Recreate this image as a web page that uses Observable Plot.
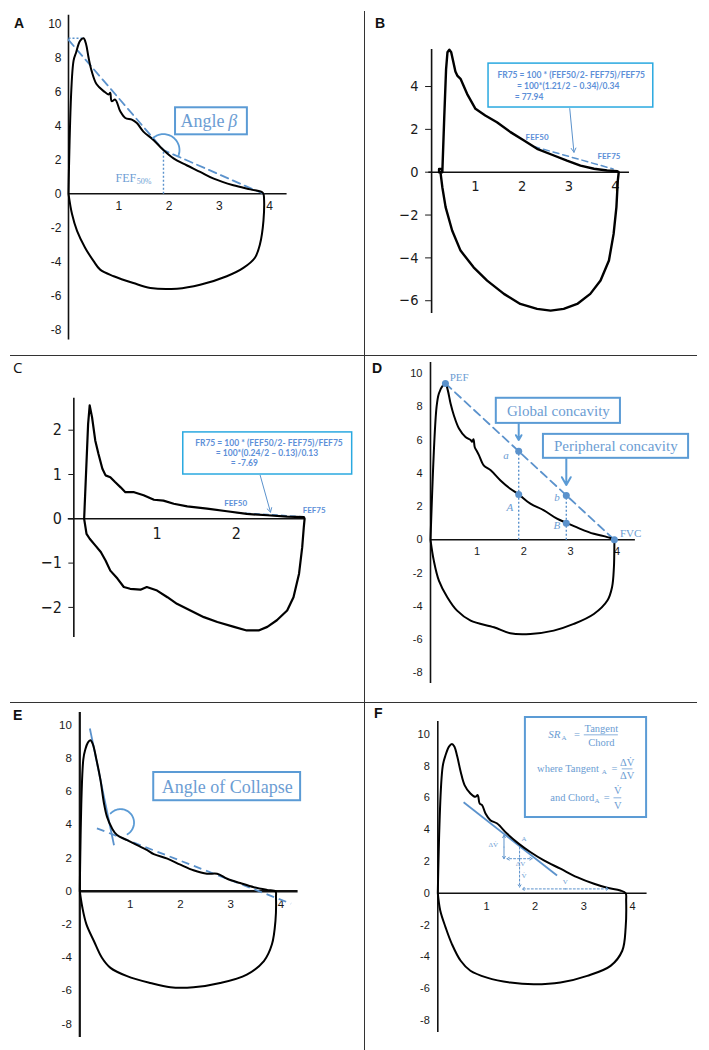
<!DOCTYPE html>
<html><head><meta charset="utf-8">
<script src="https://cdn.jsdelivr.net/npm/d3@7"></script>
<script src="https://cdn.jsdelivr.net/npm/@observablehq/plot@0.6"></script>
<style>
html,body{margin:0;padding:0;background:#fff;}
#fig{position:relative;width:709px;height:1050px;overflow:hidden;background:#fff;}
</style></head><body><div id="fig"></div>
<script>
// ---------------- data ----------------
const yTicks10 = [10,8,6,4,2,0,-2,-4,-6,-8];
const xTicks4 = [1,2,3,4];
const yTicksB = [4,2,0,-2,-4,-6];
const yTicksC = [2,1,0,-1,-2];
const xTicksC = [1,2];
const panelLetters = ["A","B","C","D","E","F"];

const loopA = [[0,0],[0.10,7.82],[0.15,8.3],[0.23,9.0],[0.30,9.15],[0.35,8.8],[0.40,8.0],[0.46,7.23],[0.56,6.44],[0.70,6.04],[0.80,5.84],[0.83,5.94],[0.86,5.45],[0.93,5.54],[1.03,4.85],[1.13,4.46],[1.26,4.36],[1.36,4.16],[1.49,3.66],[1.69,3.17],[1.89,2.57],[2.09,2.08],[2.35,1.68],[2.62,1.29],[2.89,0.89],[3.28,0.50],[3.62,0.26],[3.85,0.1],[3.88,0],
 [3.89,-0.2],[3.88,-1.58],[3.81,-2.97],[3.71,-3.76],[3.48,-4.36],[3.15,-4.85],[2.62,-5.35],[2.16,-5.58],[1.63,-5.54],[1.29,-5.25],[0.90,-4.85],[0.63,-4.46],[0.50,-3.96],[0.33,-3.17],[0.17,-2.18],[0.07,-1.19],[0,0]];

const loopB = [[0.22,0],[0.22,0.15],[0.28,0.15],[0.29,0],[0.33,2.5],[0.37,4.8],[0.40,5.6],[0.44,5.72],[0.48,5.6],[0.52,5.2],[0.57,4.7],[0.61,4.51],[0.68,4.36],[0.82,3.66],[1.0,2.96],[1.21,2.65],[1.46,2.33],[1.75,1.87],[2.04,1.48],[2.32,1.09],[2.68,0.78],[2.96,0.54],[3.25,0.31],[3.54,0.16],[3.82,0.08],[4.04,0.05],[4.07,0],
 [4.05,-0.39],[4.02,-1.63],[3.96,-2.88],[3.86,-4.12],[3.68,-5.06],[3.46,-5.68],[3.18,-6.15],[2.89,-6.38],[2.61,-6.46],[2.32,-6.38],[1.96,-6.15],[1.61,-5.68],[1.25,-5.06],[0.96,-4.44],[0.68,-3.66],[0.5,-2.72],[0.36,-1.63],[0.29,-0.7],[0.25,0]];

const loopC = [[0.08,0],[0.13,2.14],[0.15,2.56],[0.18,2.29],[0.22,1.77],[0.26,1.47],[0.31,1.13],[0.35,0.98],[0.41,0.94],[0.47,0.83],[0.54,0.71],[0.6,0.6],[0.71,0.6],[0.83,0.53],[0.96,0.43],[1.08,0.41],[1.21,0.34],[1.38,0.28],[1.63,0.23],[1.88,0.17],[2.13,0.11],[2.39,0.08],[2.64,0.05],[2.85,0.04],[2.86,0],
 [2.85,-0.19],[2.83,-0.64],[2.79,-1.24],[2.72,-1.77],[2.64,-2.07],[2.51,-2.29],[2.39,-2.44],[2.28,-2.52],[2.13,-2.52],[1.97,-2.44],[1.76,-2.33],[1.59,-2.22],[1.42,-2.07],[1.25,-1.92],[1.13,-1.77],[1.0,-1.62],[0.87,-1.54],[0.79,-1.6],[0.66,-1.58],[0.58,-1.54],[0.5,-1.35],[0.41,-1.17],[0.35,-0.94],[0.29,-0.75],[0.22,-0.6],[0.15,-0.45],[0.11,-0.34],[0.08,0]];

const loopD = [[0,0],[0.13,7.99],[0.18,8.8],[0.27,9.3],[0.32,9.4],[0.37,9.0],[0.43,8.19],[0.5,7.49],[0.61,6.69],[0.75,6.18],[0.86,6.0],[0.89,5.9],[0.92,6.05],[0.95,5.55],[1.0,5.3],[1.04,5.08],[1.14,4.48],[1.29,4.18],[1.5,3.57],[1.71,3.07],[1.89,2.73],[2.14,2.17],[2.43,1.77],[2.71,1.27],[2.93,1.0],[3.21,0.66],[3.5,0.36],[3.79,0.16],[3.94,0],
 [3.94,-0.24],[3.93,-1.65],[3.89,-2.85],[3.79,-3.65],[3.5,-4.46],[3.07,-5.06],[2.64,-5.46],[2.14,-5.66],[1.71,-5.62],[1.36,-5.26],[0.86,-4.86],[0.57,-4.26],[0.36,-3.45],[0.18,-2.45],[0.07,-1.24],[0,0]];

const loopE = [[0,0],[0.07,7.94],[0.11,8.54],[0.16,8.95],[0.21,9.09],[0.26,8.85],[0.33,7.94],[0.41,6.72],[0.48,5.3],[0.54,4.49],[0.64,3.79],[0.74,3.38],[0.94,3.08],[1.14,2.77],[1.34,2.47],[1.47,2.23],[1.74,1.96],[2.0,1.6],[2.26,1.26],[2.53,1.05],[2.73,1.05],[2.93,0.75],[3.19,0.49],[3.46,0.24],[3.72,0.08],[3.89,0],
 [3.9,-0.36],[3.89,-1.78],[3.82,-3.2],[3.66,-4.21],[3.32,-5.02],[2.79,-5.53],[2.26,-5.79],[1.8,-5.79],[1.4,-5.53],[0.94,-5.12],[0.61,-4.62],[0.44,-4.01],[0.28,-3.0],[0.13,-1.98],[0.05,-0.97],[0,0]];

const loopF = [[0,0],[0.1,7.96],[0.16,8.69],[0.23,9.22],[0.29,9.39],[0.34,9.22],[0.4,8.59],[0.47,7.64],[0.55,6.8],[0.67,6.27],[0.77,6.06],[0.82,6.17],[0.86,5.64],[0.91,5.54],[0.98,5.01],[1.08,4.59],[1.22,4.38],[1.42,3.75],[1.66,3.12],[1.9,2.59],[2.18,2.06],[2.52,1.54],[2.86,1.01],[3.21,0.59],[3.48,0.34],[3.75,0.17],[3.86,0],
 [3.87,-0.46],[3.86,-2.15],[3.79,-3.62],[3.55,-4.57],[3.07,-5.2],[2.52,-5.62],[1.97,-5.73],[1.49,-5.62],[1.01,-5.31],[0.67,-4.88],[0.47,-4.25],[0.29,-3.2],[0.16,-2.15],[0.05,-1.09],[0,0]];

// annotations (data units)
const aChord = [[0,9.05],[1.89,2.57],[3.88,0]];
const aGuides = [{x1:0,y1:9.15,x2:0.3,y2:9.15},{x1:1.89,y1:0,x2:1.89,y2:2.57}];
const aBox = [{x1:2.13,x2:3.56,y1:3.47,y2:5.06}];
const aWord = [{x:2.23,y:4.25,t:"Angle"}];
const aBeta = [{x:3.18,y:4.25,t:"β"}];
const aFef = [{x:0.935,y:0.9,t:"FEF"}];
const aFefSub = [{x:1.36,y:0.9,t:"50%"}];

const bBox = [{x1:1.28,x2:4.81,y1:3.02,y2:5.07}];
const bFormula = [{x:1.47,y:4.51,t:"FR75 = 100 * (FEF50/2- FEF75)/FEF75"},{x:1.89,y:4.0,t:"= 100*(1.21/2 – 0.34)/0.34"},{x:1.84,y:3.49,t:"= 77.94"}];
const bArrow = [{x1:3.02,y1:2.97,x2:3.11,y2:0.93}];
const bDash = [[2.25,1.2],[3.95,0.15]];
const bTags = [{x:2.32,y:1.6,t:"FEF50"},{x:3.86,y:0.73,t:"FEF75"}];

const cBox = [{x1:1.33,x2:3.46,y1:1.0,y2:1.95}];
const cFormula = [{x:1.48,y:1.70,t:"FR75 = 100 * (FEF50/2- FEF75)/FEF75"},{x:1.74,y:1.47,t:"= 100*(0.24/2 – 0.13)/0.13"},{x:1.93,y:1.25,t:"= -7.69"}];
const cArrow = [{x1:2.30,y1:0.98,x2:2.43,y2:0.15}];
const cDash = [[2.0,0.14],[2.85,0.05]];
const cTags = [{x:1.99,y:0.34,t:"FEF50"},{x:2.98,y:0.19,t:"FEF75"}];

const dChord = [[0.32,9.4],[3.94,0]];
const dGuides = [{x1:1.89,y1:0,x2:1.89,y2:5.32},{x1:2.91,y1:0,x2:2.91,y2:2.67}];
const dPoints = [{x:0.32,y:9.4},{x:3.94,y:0},{x:1.89,y:5.32},{x:1.89,y:2.73},{x:2.91,y:2.67},{x:2.91,y:1.0}];
const dTags = [{x:0.41,y:9.76,t:"PEF"},{x:4.06,y:0.4,t:"FVC"}];
const dLetters = [{x:1.62,y:5.08,t:"a"},{x:1.70,y:1.97,t:"A"},{x:2.71,y:2.57,t:"b"},{x:2.71,y:0.86,t:"B"}];
const dBoxes = [{x1:1.41,x2:4.07,y1:7.0,y2:8.51},{x1:2.42,x2:5.53,y1:4.9,y2:6.34}];
const dBoxText = [{x:2.74,y:7.76,t:"Global concavity"},{x:3.97,y:5.62,t:"Peripheral concavity"}];
const dArrows = [{x1:1.89,y1:7.0,x2:1.89,y2:6.0},{x1:2.91,y1:4.9,x2:2.91,y2:3.3}];

const eTangent = [{x1:0.2,y1:9.8,x2:0.68,y2:2.77}];
const eBaseline = [{x1:0.34,y1:3.79,x2:4.2,y2:-0.75}];
const eBox = [{x1:1.47,x2:4.39,y1:5.45,y2:7.15}];
const eBoxText = [{x:2.93,y:6.28,t:"Angle of Collapse"}];

const fTangent = [{x1:0.53,y1:5.72,x2:2.45,y2:1.11}];
const fBox = [{x1:1.80,x2:4.29,y1:4.76,y2:11.05}];
const fWords = [{x:2.04,y:7.82,t:"where Tangent"},{x:2.31,y:6.0,t:"and Chord"}];
const fItalic = [{x:2.27,y:9.96,t:"SR"}];
const fSubs = [{x:2.54,y:9.96,t:"A"},{x:3.37,y:7.82,t:"A"},{x:3.22,y:6.0,t:"A"}];
const fEq = [{x:2.86,y:9.96,t:"="},{x:3.63,y:7.82,t:"="},{x:3.47,y:6.0,t:"="}];
const fFrac = [{x:3.36,y:10.38,t:"Tangent"},{x:3.36,y:9.5,t:"Chord"},{x:3.89,y:8.24,t:"ΔV̇"},{x:3.89,y:7.4,t:"ΔV"},{x:3.70,y:6.46,t:"V̇"},{x:3.70,y:5.52,t:"V"}];
const fBars = [{x1:3.01,x2:3.71,y:9.96},{x1:3.79,x2:4.01,y:7.82},{x1:3.62,x2:3.78,y:6.0}];
const fArrowsSolid = [{x1:1.36,y1:2.9,x2:1.36,y2:3.64},{x1:1.36,y1:2.9,x2:1.36,y2:2.17}];
const fArrowsDash = [{x1:1.68,y1:2.17,x2:1.42,y2:2.17},{x1:1.68,y1:2.17,x2:1.94,y2:2.17},{x1:1.68,y1:2.9,x2:1.68,y2:0.38},{x1:2.62,y1:0.27,x2:1.73,y2:0.27},{x1:2.62,y1:0.27,x2:3.51,y2:0.27}];
const fSmall = [{x:1.14,y:3.07,t:"ΔV̇"},{x:1.70,y:1.85,t:"ΔV"},{x:1.77,y:1.12,t:"V̇"},{x:2.62,y:0.69,t:"V"},{x:1.77,y:3.4,t:"A"}];

// ---------------- style / layout ----------------
const LINE="#5b92cc", TXT="#6c9dd3", BOX="#5b9bd5", CYAN="#2aa9e0", INK="#111";
const SANS='"Liberation Sans", Arial, sans-serif';
const SERIF='"Liberation Serif", "Times New Roman", serif';
const DJV='"DejaVu Sans Condensed", "DejaVu Sans", sans-serif';
const CAL='Lato, "Open Sans", sans-serif';

const fig = document.getElementById("fig");
const X = d => d[0], Y = d => d[1];
const hyphen = d => String(d);

// overlay with dividers and panel letters
const ov = d3.select(fig).append("svg").attr("width",709).attr("height",1050)
  .style("position","absolute").style("left","0px").style("top","0px");
ov.append("line").attr("x1",364.5).attr("x2",364.5).attr("y1",11).attr("y2",1050).attr("stroke","#333").attr("stroke-width",1);
[355.5,702.5].forEach(y => ov.append("line").attr("x1",10).attr("x2",697).attr("y1",y).attr("y2",y).attr("stroke","#333").attr("stroke-width",1));
const letterPos = [[14,28],[375,28],[13,373],[372,373],[13,719.5],[374,718]];
panelLetters.forEach((t,i) => ov.append("text").attr("x",letterPos[i][0]).attr("y",letterPos[i][1])
  .attr("font-family", i===2 ? '"Open Sans", sans-serif' : SANS).attr("font-weight", i===2 ? "normal" : "bold")
  .attr("font-size", i===2 ? 15 : 14).attr("fill","#111").text(t));

function arcPts(cx, cy, rpx, a0, a1, cfg) {
  return d3.range(41).map(i => { const a = (a0 + (a1 - a0) * i / 40) * Math.PI / 180;
    return [cx + rpx * Math.cos(a) / cfg.kx, cy + rpx * Math.sin(a) / cfg.ky]; });
}

function mk(cfg, marks, fontFamily, fontSize) {
  const ml = cfg.ox + cfg.ax * cfg.kx - cfg.L;
  const svg = Plot.plot({
    width: cfg.W, height: cfg.H, marginLeft: ml, marginRight: 0, marginTop: 0, marginBottom: 0,
    x: {domain: [cfg.ax, cfg.ax + (cfg.W - ml) / cfg.kx], axis: null},
    y: {domain: [(cfg.oy - cfg.T - cfg.H) / cfg.ky, (cfg.oy - cfg.T) / cfg.ky]},
    style: {background: "transparent", overflow: "visible", fontFamily, fontSize: fontSize + "px", color: "#1a1a1a"},
    marks
  });
  svg.style.position = "absolute"; svg.style.left = cfg.L + "px"; svg.style.top = cfg.T + "px";
  fig.appendChild(svg);
}

const cfgA = {L:0,T:0,W:362,H:352,ox:68,oy:193.3,kx:50.25,ky:17.0,ax:0};
const cfgB = {L:366,T:0,W:343,H:352,ox:428.3,oy:171.7,kx:46.67,ky:21.42,ax:0.06};
const cfgC = {L:0,T:356,W:362,H:345,ox:77.3,oy:518.3,kx:79.3,ky:44.3,ax:-0.05};
const cfgD = {L:366,T:356,W:343,H:345,ox:430,oy:539.3,kx:46.67,ky:16.63,ax:0};
const cfgE = {L:0,T:703,W:362,H:347,ox:79.3,oy:890.7,kx:50.3,ky:16.6,ax:0};
const cfgF = {L:366,T:703,W:343,H:347,ox:437.3,oy:892.7,kx:48.67,ky:15.9,ax:0};

const link = (data, o) => Plot.link(data, {x1:"x1",y1:"y1",x2:"x2",y2:"y2", ...o});
const arrow = (data, o) => Plot.arrow(data, {x1:"x1",y1:"y1",x2:"x2",y2:"y2", ...o});
const rect = (data, o) => Plot.rect(data, {x1:"x1",x2:"x2",y1:"y1",y2:"y2", ...o});
const txt = (data, o) => Plot.text(data, {x:"x", y:"y", text:"t", ...o});

// ---------- A ----------
mk(cfgA, [
  Plot.ruleX([0], {y1:-8.6, y2:10.5, stroke:INK, strokeWidth:1.6}),
  Plot.ruleY([0], {x1:0, x2:4.35, stroke:INK, strokeWidth:1.6}),
  Plot.axisY({ticks: yTicks10, anchor:"left", tickSize:0, tickPadding:7, tickFormat: hyphen}),
  Plot.text(xTicks4, {x:d=>d, y:0, dy:12, text: hyphen}),
  link(aGuides, {stroke:LINE, strokeWidth:1.4, strokeDasharray:"2,2"}),
  Plot.line(aChord, {x:X, y:Y, stroke:LINE, strokeWidth:1.8, strokeDasharray:"8,5"}),
  Plot.line(loopA, {x:X, y:Y, stroke:"#000", strokeWidth:2, curve:"catmull-rom"}),
  Plot.line(arcPts(1.89, 2.57, 16, 131, -23, cfgA), {x:X, y:Y, stroke:BOX, strokeWidth:1.8}),
  rect(aBox, {fill:"white", stroke:BOX, strokeWidth:2}),
  txt(aWord, {textAnchor:"start", fontFamily:SERIF, fontSize:18, fill:TXT}),
  txt(aBeta, {textAnchor:"start", fontFamily:SERIF, fontSize:18, fontStyle:"italic", fill:TXT}),
  txt(aFef, {textAnchor:"start", fontFamily:SERIF, fontSize:12, fill:TXT}),
  txt(aFefSub, {textAnchor:"start", fontFamily:SERIF, fontSize:8, dy:3, fill:TXT})
], SANS, 12);

// ---------- B ----------
mk(cfgB, [
  Plot.ruleX([0.06], {y1:-6.6, y2:5.73, stroke:INK, strokeWidth:1.6}),
  Plot.ruleY([0], {x1:0, x2:4.3, stroke:INK, strokeWidth:1.6}),
  Plot.axisY({ticks: yTicksB, anchor:"left", tickSize:6, tickPadding:7}),
  Plot.text(xTicks4, {x:d=>d, y:0, dy:14, text: hyphen}),
  Plot.line(bDash, {x:X, y:Y, stroke:LINE, strokeWidth:1.5, strokeDasharray:"6,4"}),
  Plot.line(loopB, {x:X, y:Y, stroke:"#000", strokeWidth:2.4}),
  arrow(bArrow, {stroke:LINE, strokeWidth:1, headLength:7}),
  rect(bBox, {fill:"white", stroke:CYAN, strokeWidth:1.5}),
  txt(bFormula, {textAnchor:"start", fontFamily:CAL, fontWeight:"bold", fontSize:8.5, fill:"#5d8fd8"}),
  txt(bTags, {fontFamily:CAL, fontWeight:"bold", fontSize:8, fill:"#5d8fd8"})
], DJV, 14.5);

// ---------- C ----------
mk(cfgC, [
  Plot.ruleX([-0.05], {y1:-2.68, y2:2.72, stroke:INK, strokeWidth:1.6}),
  Plot.ruleY([0], {x1:-0.12, x2:2.87, stroke:INK, strokeWidth:1.6}),
  Plot.axisY({ticks: yTicksC, anchor:"left", tickSize:5, tickPadding:7}),
  Plot.text(xTicksC, {x:d=>d, y:0, dy:15, text: hyphen}),
  Plot.line(cDash, {x:X, y:Y, stroke:LINE, strokeWidth:1.3, strokeDasharray:"5,4"}),
  Plot.line(loopC, {x:X, y:Y, stroke:"#000", strokeWidth:2.2}),
  arrow(cArrow, {stroke:LINE, strokeWidth:1, headLength:7}),
  rect(cBox, {fill:"white", stroke:CYAN, strokeWidth:1.5}),
  txt(cFormula, {textAnchor:"start", fontFamily:CAL, fontWeight:"bold", fontSize:8.5, fill:"#5d8fd8"}),
  txt(cTags, {fontFamily:CAL, fontWeight:"bold", fontSize:8, fill:"#5d8fd8"})
], DJV, 16);

// ---------- D ----------
mk(cfgD, [
  Plot.ruleX([0], {y1:-8.64, y2:10.66, stroke:INK, strokeWidth:1.6}),
  Plot.ruleY([0], {x1:0, x2:4.39, stroke:INK, strokeWidth:1.6}),
  Plot.axisY({ticks: yTicks10, anchor:"left", tickSize:0, tickPadding:8, tickFormat: hyphen}),
  Plot.text(xTicks4, {x:d=>d, y:0, dy:12, text: hyphen}),
  link(dGuides, {stroke:LINE, strokeWidth:1.4, strokeDasharray:"2,2"}),
  Plot.line(dChord, {x:X, y:Y, stroke:LINE, strokeWidth:1.8, strokeDasharray:"8,5"}),
  Plot.line(loopD, {x:X, y:Y, stroke:"#000", strokeWidth:2, curve:"catmull-rom"}),
  Plot.dot(dPoints, {x:"x", y:"y", r:3.5, fill:LINE}),
  arrow(dArrows, {stroke:BOX, strokeWidth:2, headLength:7}),
  rect(dBoxes, {fill:"white", stroke:BOX, strokeWidth:2}),
  txt(dBoxText, {fontFamily:SERIF, fontSize:15, fill:TXT}),
  txt(dTags, {textAnchor:"start", fontFamily:SERIF, fontSize:11, fill:TXT}),
  txt(dLetters, {fontFamily:SERIF, fontSize:11, fontStyle:"italic", fill:TXT})
], SANS, 11);

// ---------- E ----------
mk(cfgE, [
  Plot.ruleX([0], {y1:-8.81, y2:10.77, stroke:INK, strokeWidth:2.2}),
  Plot.ruleY([0], {x1:0, x2:4.34, stroke:INK, strokeWidth:2.5}),
  Plot.axisY({ticks: yTicks10, anchor:"left", tickSize:0, tickPadding:8, tickFormat: hyphen}),
  Plot.text(xTicks4, {x:d=>d, y:0, dy:13, text: hyphen}),
  link(eBaseline, {stroke:LINE, strokeWidth:1.8, strokeDasharray:"8,5"}),
  link(eTangent, {stroke:LINE, strokeWidth:1.8}),
  Plot.line(loopE, {x:X, y:Y, stroke:"#000", strokeWidth:2, curve:"catmull-rom"}),
  Plot.line(arcPts(0.81, 4.13, 13.5, 137, -59, cfgE), {x:X, y:Y, stroke:BOX, strokeWidth:1.8}),
  rect(eBox, {fill:"white", stroke:BOX, strokeWidth:2}),
  txt(eBoxText, {fontFamily:SERIF, fontSize:18, fill:TXT})
], SANS, 11.5);

// ---------- F ----------
mk(cfgF, [
  Plot.ruleX([0], {y1:-8.76, y2:10.8, stroke:INK, strokeWidth:1.6}),
  Plot.ruleY([0], {x1:0, x2:4.3, stroke:INK, strokeWidth:1.6}),
  Plot.axisY({ticks: yTicks10, anchor:"left", tickSize:0, tickPadding:8, tickFormat: hyphen}),
  Plot.text(xTicks4, {x:d=>d, y:0, dy:13, text: hyphen}),
  link(fTangent, {stroke:LINE, strokeWidth:1.8}),
  Plot.line(loopF, {x:X, y:Y, stroke:"#000", strokeWidth:2, curve:"catmull-rom"}),
  arrow(fArrowsSolid, {stroke:LINE, strokeWidth:1, headLength:4}),
  arrow(fArrowsDash, {stroke:LINE, strokeWidth:1, headLength:4, strokeDasharray:"2,2"}),
  txt(fSmall, {fontFamily:SERIF, fontSize:7, fill:TXT}),
  rect(fBox, {fill:"white", stroke:BOX, strokeWidth:2}),
  txt(fWords, {textAnchor:"start", fontFamily:SERIF, fontSize:10.5, fill:TXT}),
  txt(fItalic, {textAnchor:"start", fontFamily:SERIF, fontSize:11, fontStyle:"italic", fill:TXT}),
  txt(fSubs, {textAnchor:"start", fontFamily:SERIF, fontSize:7, dy:3, fill:TXT}),
  txt(fEq, {fontFamily:SERIF, fontSize:10.5, fill:TXT}),
  txt(fFrac, {fontFamily:SERIF, fontSize:10.5, fill:TXT}),
  Plot.ruleY(fBars, {y:"y", x1:"x1", x2:"x2", stroke:TXT, strokeWidth:0.8})
], SANS, 11);
</script></body></html>
